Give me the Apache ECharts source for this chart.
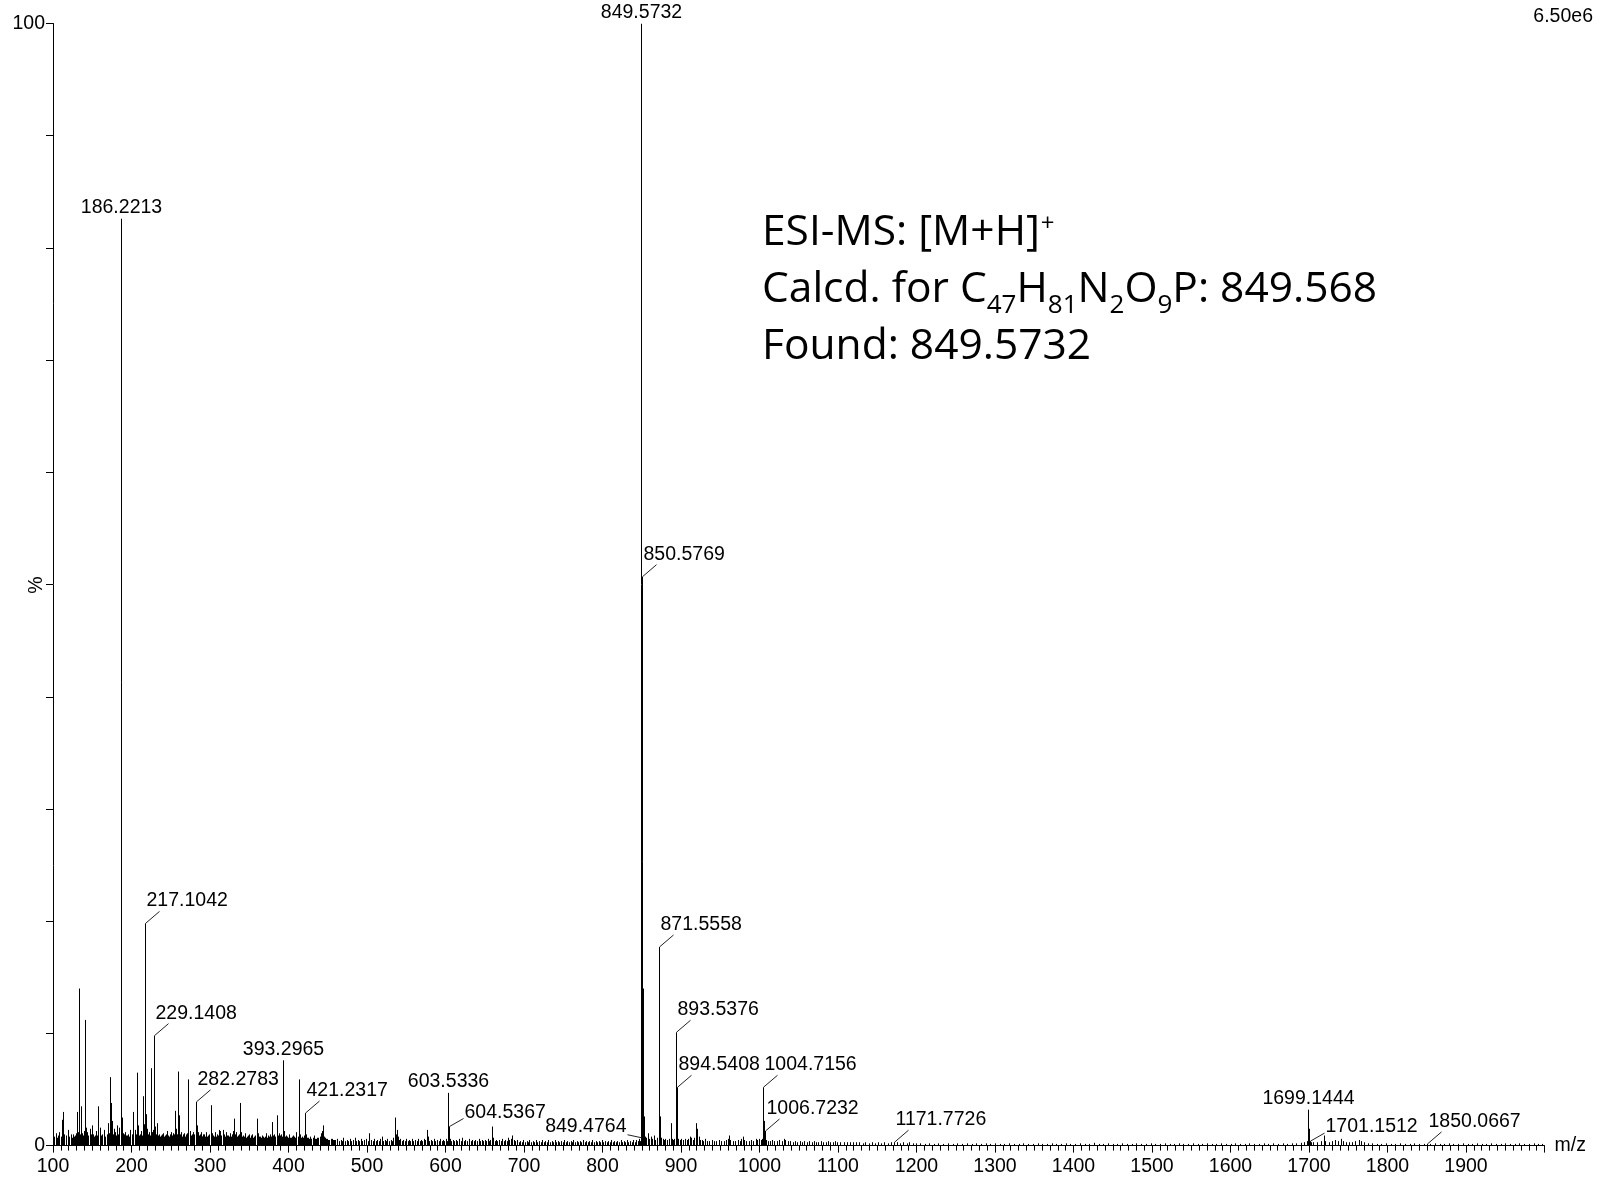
<!DOCTYPE html>
<html><head><meta charset="utf-8">
<script src="https://cdn.jsdelivr.net/npm/echarts@6/dist/echarts.min.js"></script>
<style>html,body{margin:0;padding:0;background:#fff}#c{width:1601px;height:1181px}</style>
</head><body><div id="c"></div>
<script>
// ---------- DATA ----------
const labeledMz  = [186.2213, 217.1042, 229.1408, 282.2783, 393.2965, 421.2317, 603.5336, 604.5367, 849.4764, 849.5732,
                    850.5769, 871.5558, 893.5376, 894.5408, 1004.7156, 1006.7232, 1171.7726, 1699.1444, 1701.1512, 1850.0667];
const labeledInt = [82.6, 19.8, 9.8, 3.9, 7.6, 2.9, 4.7, 1.7, 0.7, 100,
                    50.7, 17.7, 10.1, 5.2, 5.2, 1.3, 0.3, 3.2, 0.4, 0.15];

const minorLow = [[101.5,0.8],[103.2,1.1],[105.0,0.7],[106.4,0.9],[108.1,1.2],[110.3,0.8],[112.0,2.3],[113.2,3.0],[114.6,1.0],[116.5,0.9],[118.7,1.4],[120.0,0.7],[121.0,0.8],[122.8,1.0],[124.0,0.7],[125.3,1.0],[126.6,0.8],[128.0,0.9],[129.2,1.1],[130.2,3.0],[131.3,1.2],[132.5,14.0],
  [133.6,1.5],[134.6,1.0],[135.7,3.5],[137.0,1.1],[138.4,0.9],[139.6,1.3],[141.2,11.2],[142.1,1.6],[143.0,1.2],[144.8,0.9],[146.5,1.5],[147.8,1.0],[149.1,1.8],[151.0,1.0],[152.1,0.8],[153.2,0.9],[155.4,1.3],[156.5,0.9],[157.7,3.5],[159.9,1.6],
  [161.4,0.9],[163.0,1.0],[165.1,1.4],[166.7,0.8],[168.3,1.0],[170.2,2.0],[171.3,1.1],[172.6,6.1],[173.9,3.8],[175.0,2.2],[176.1,1.0],[177.2,1.5],[179.0,1.2],[180.1,0.9],[181.1,1.8],
  [183.0,1.0],[184.5,1.6],[187.2,10.4],[188.2,2.5],[189.1,1.1],[190.0,1.0],[191.2,0.8],[192.1,1.2],[193.3,0.9],[194.3,0.9],[196.0,1.0],[197.2,0.8],[198.3,1.4],[200.0,0.9],[201.1,1.0],
  [202.3,3.0],[204.0,1.4],[205.3,1.0],[206.6,6.5],[208.1,1.8],[209.2,0.9],[210.4,1.0],[212.0,1.3],[213.1,0.9],[214.2,4.4],[215.5,1.9],[218.1,2.8],[219.3,1.5],
  [221.0,1.0],[222.6,1.2],[223.7,0.9],[224.8,6.9],[226.0,1.2],[227.0,1.4],[228.2,1.0],[230.1,1.7],[231.3,1.0],[232.9,2.0],[234.0,0.9],[235.0,1.0],[236.1,0.8],[237.2,0.9],[238.6,1.0],[240.1,1.1],[241.3,0.8],[242.5,0.9],
  [243.7,1.0],[245.0,1.3],[246.2,0.9],[247.3,0.8],[248.8,1.0],[250.2,1.2],[251.1,0.8],[252.0,0.9],[253.2,1.1],[254.3,1.0],[255.4,3.1],[257.2,1.5],[258.4,1.0],[259.7,6.6],[260.8,2.7],[262.0,1.0],[263.0,1.2],
  [264.0,0.8],[265.1,0.9],[266.2,1.0],[267.3,1.1],[268.4,0.8],[269.5,1.0],[270.8,1.1],[272.4,5.9],[274.0,1.3],[275.1,0.9],[276.2,0.9],[277.2,1.0],[278.3,1.2],[279.2,0.8],[280.1,1.0],[283.3,1.8],[284.2,1.2],
  [285.1,0.9],[286.0,0.9],[287.2,1.0],[288.3,1.2],[289.2,0.8],[290.1,0.8],[291.3,1.0],[292.5,1.0],[293.8,0.8],[295.0,1.2],[296.1,0.8],[297.3,0.9],[298.6,1.0],[300.9,3.6],[302.0,1.1],[303.1,0.8],[304.2,0.9],[305.3,0.8],[306.5,1.2],
  [307.7,0.8],[309.0,1.0],[310.3,0.9],[311.5,1.4],[313.2,1.3],[314.5,0.9],[316.0,1.4],[317.2,0.8],[318.3,1.0],[319.4,0.8],[320.5,1.2],[321.7,0.9],[323.0,0.9],[324.0,0.8],[325.1,1.1],[326.2,0.8],[327.4,1.0],[329.0,1.3],
  [331.0,2.4],[332.1,1.0],[333.2,1.2],[334.3,0.8],[335.3,0.9],[336.6,1.0],[338.2,3.8],[339.1,1.0],[340.1,1.2],[341.2,0.8],[342.3,0.9],[343.6,0.8],[345.0,1.1],[346.1,0.7],[347.2,0.8],[348.6,0.9],[350.1,1.0],[351.2,0.7],[352.3,0.9],
  [354.0,1.0],[355.1,0.7],[356.2,0.8],[357.8,0.9],[359.5,2.4],[361.0,1.1],[362.2,0.8],[363.5,0.8],[364.8,0.7],[366.0,0.9],[367.5,0.8],[369.0,0.7],[370.1,0.8],[371.2,1.1],[372.2,0.7],[373.3,0.9],[374.6,0.8],[376.0,1.0],[377.3,0.8],
  [378.6,2.1],[379.8,0.9],[381.0,1.0],[382.1,0.7],[383.2,0.8],[385.0,2.7],[386.2,0.9],[387.3,1.1],[388.2,0.8],[389.2,0.9],[390.1,0.7],[391.0,1.0],[392.2,0.8],[394.3,1.3],[395.2,0.8],[396.2,0.9],[397.3,0.7],[398.5,0.8],[399.7,0.7],
  [401.0,1.0],[402.1,0.7],[403.2,0.7],[404.3,0.8],[405.3,0.9],[406.4,0.7],[407.5,0.8],[408.7,0.7],[410.0,1.2],[411.6,0.8],[413.4,5.9],[415.0,1.0],[416.1,0.7],[417.2,0.8],[418.2,0.7],[419.3,0.9],[420.4,0.7],[422.3,1.0],
  [423.4,0.7],[424.5,0.7],[425.7,0.6],[427.0,0.8],[428.1,0.6],[429.2,0.6],[430.6,0.7],[432.0,0.9],[433.2,0.6],[434.4,0.6],[435.7,0.7],[437.0,0.7],[438.2,0.6],[439.5,0.8],[441.0,1.1],[442.0,0.8],[443.0,1.3],[444.4,1.8],
  [445.3,0.8],[446.3,0.7],[447.6,0.6],[449.0,0.6],[450.5,0.5],[452.0,0.5],[453.6,0.6],[455.2,0.6],[456.6,0.5],[458.0,0.5],[459.4,0.5]];

const minorMid = [[462.0,0.6],[464.2,0.4],[466.3,0.5],[468.1,0.4],[470.0,0.7],[472.1,0.4],[474.2,0.5],[476.3,0.4],[478.5,0.6],[480.2,0.4],[482.0,0.5],[484.7,0.7],[486.5,0.4],[488.3,0.5],[490.1,0.4],[492.0,0.6],[494.2,0.4],[496.4,0.5],
  [499.0,0.6],[500.7,0.4],[502.5,1.1],[505.0,0.5],[507.1,0.4],[509.2,0.6],[511.1,0.4],[513.0,0.5],[514.8,0.4],[516.5,0.6],[519.0,0.8],[520.6,0.4],[522.3,0.5],[524.2,0.4],[526.0,0.6],[528.0,0.4],[530.1,0.5],
  [531.6,0.4],[533.0,0.7],[535.7,2.5],[536.6,1.0],[537.8,1.4],[539.5,0.8],[540.8,0.5],[542.0,0.6],[544.2,0.4],[546.3,0.5],[548.2,0.4],[550.0,0.6],[551.6,0.4],[553.2,0.5],[555.1,0.4],[557.0,0.6],[559.2,0.4],[561.3,0.5],
  [563.2,0.4],[565.0,0.6],[567.0,0.4],[569.0,0.5],[570.7,0.4],[572.4,0.6],[574.2,0.5],[576.0,1.4],[577.0,0.7],[578.0,0.8],[579.6,0.4],[581.2,0.5],[583.1,0.4],[585.0,0.6],[587.2,0.4],[589.3,0.5],[591.1,0.4],[593.0,0.6],[595.0,0.4],[597.1,0.5],
  [598.6,0.4],[600.0,0.6],[601.8,0.4],[605.5,0.6],[607.2,0.4],[609.0,0.5],[611.1,0.4],[613.2,0.5],[615.1,0.4],[617.0,0.6],[619.2,0.4],[621.4,0.7],[623.2,0.4],[625.0,0.5],[627.5,0.4],[630.0,0.6],[632.2,0.4],[634.3,0.5],[636.1,0.4],[638.0,0.5],
  [640.1,0.4],[642.2,0.6],[644.1,0.4],[646.0,0.5],[648.0,0.4],[650.0,0.5],[652.2,0.4],[654.3,0.6],[655.6,0.4],[657.0,0.5],[659.6,1.7],[661.0,0.7],[662.5,0.4],[664.0,0.5],[666.1,0.4],[668.2,0.5],[670.1,0.4],[672.0,0.6],
  [674.2,0.4],[676.3,0.5],[678.1,0.4],[680.0,0.7],[681.5,0.5],[683.0,0.6],[685.0,0.9],[687.2,0.5],[689.1,0.4],[691.0,0.5],[693.2,0.3],[695.3,0.4],[697.1,0.3],[699.0,0.5],[701.1,0.3],[703.2,0.4],[705.1,0.3],[707.0,0.5],
  [709.2,0.3],[711.3,0.4],[713.1,0.3],[715.0,0.5],[717.1,0.3],[719.2,0.4],[721.1,0.3],[723.0,0.5],[725.2,0.3],[727.3,0.4],[729.1,0.3],[731.0,0.5],[733.1,0.3],[735.2,0.4],[737.1,0.3],[739.0,0.5],[741.2,0.3],[743.3,0.4],[745.1,0.3],[747.0,0.4],
  [749.1,0.3],[751.2,0.5],[753.1,0.3],[755.0,0.4],[757.2,0.3],[759.3,0.4],[761.1,0.3],[763.0,0.5],[765.1,0.3],[767.2,0.4],[769.1,0.3],[771.0,0.4],[773.2,0.3],[775.3,0.5],[777.1,0.3],[779.0,0.4],[781.1,0.3],[783.2,0.4],[785.1,0.3],[787.0,0.5],
  [789.2,0.3],[791.3,0.4],[793.1,0.3],[795.0,0.4],[797.1,0.3],[799.2,0.5],[801.1,0.3],[803.0,0.4],[805.2,0.3],[807.3,0.4],[809.1,0.3],[811.0,0.5],[813.1,0.3],[815.2,0.4],[817.1,0.3],[819.0,0.4],[821.2,0.3],[823.3,0.5],[825.1,0.3],[827.0,0.4],
  [829.1,0.3],[831.2,0.5],[833.1,0.3],[835.0,0.4],[837.2,0.3],[839.3,0.5],[841.1,0.3],[843.0,0.5],[844.6,0.4],[846.2,0.6],[847.6,0.4]];

const minorIso = [[851.58,14.0],[852.58,2.6],[853.6,0.8],[855.3,0.7],[857.5,1.1],[859.0,0.6],[861.2,0.8],[863.0,0.6],[865.4,0.9],[867.0,0.5],
  [869.2,0.7],[872.559,9.1],[873.56,2.6],[874.6,0.7],[876.5,0.6],[878.3,0.5],[880.2,0.6],[882.5,0.5],[884.2,0.6],[886.8,2.0],
  [888.2,0.6],[890.0,0.5],[891.6,0.6],[895.54,1.8],[896.6,0.6],[898.3,0.5],[900.5,0.6],[903.0,0.5],[905.2,0.6],[907.5,0.5],
  [909.3,0.6],[911.5,0.8],[913.0,0.7],[915.2,0.5],[917.0,0.7],[918.9,2.0],[920.5,1.5],[922.3,0.8],[924.0,0.5],[926.5,0.5],
  [928.3,0.4],[930.4,0.6],[933.0,0.4],[936.2,0.4],[939.0,0.5],[942.3,0.4],[945.0,0.4],[948.2,0.5],[951.0,0.4],[954.3,0.4],
  [957.0,0.5],[959.3,0.6],[961.5,0.9],[963.0,0.5],[966.2,0.4],[969.0,0.4],[972.3,0.5],[975.0,0.4],[977.0,0.6],[978.6,0.8],
  [980.5,0.5],[983.0,0.4],[986.2,0.4],[989.0,0.5],[992.3,0.4],[995.0,0.6],[997.2,0.5],[999.0,0.6],[1001.3,0.5],[1003.0,0.6],
  [1005.72,2.2],[1008.0,0.5],[1010.3,0.4],[1013.0,0.4],[1016.2,0.5],[1019.0,0.4],[1022.3,0.4],[1025.0,0.5],[1028.2,0.4],[1031.0,0.6],
  [1033.0,0.5],[1036.2,0.4],[1039.0,0.4],[1042.3,0.3],[1045.0,0.4],[1048.2,0.3],[1051.0,0.4],[1054.3,0.3],[1057.0,0.4],[1060.2,0.3],
  [1063.0,0.4],[1066.3,0.3],[1069.0,0.4],[1072.2,0.3],[1075.0,0.3],[1078.3,0.4],[1081.0,0.3],[1084.2,0.3],[1087.0,0.4],[1090.3,0.3],
  [1093.0,0.3],[1096.2,0.4],[1099.0,0.3],[1103.0,0.3],[1107.2,0.3],[1111.0,0.3],[1115.3,0.3],[1119.0,0.3],[1123.2,0.3],[1127.0,0.3],
  [1131.3,0.2],[1135.0,0.3],[1139.2,0.2],[1143.0,0.3],[1147.3,0.2],[1151.0,0.3],[1155.2,0.2],[1159.0,0.3],[1163.3,0.2],[1167.0,0.3],
  [1175.0,0.3],[1179.2,0.2],[1183.0,0.3],[1187.3,0.2],[1191.0,0.3],[1195.2,0.2],[1199.0,0.2]];

const minorHigh = [[1204,0.2],[1210.3,0.15],[1216,0.2],[1222.5,0.15],[1228,0.2],[1234.2,0.15],[1240,0.2],[1246.3,0.15],[1252,0.2],[1258.4,0.15],
  [1264,0.2],[1270.2,0.15],[1276,0.2],[1282.3,0.15],[1288,0.2],[1294.1,0.15],[1300,0.2],[1306.3,0.15],[1312,0.15],[1318.2,0.2],
  [1324,0.15],[1330.3,0.15],[1336,0.2],[1342.2,0.15],[1348,0.15],[1354.3,0.2],[1360,0.15],[1366.1,0.15],[1372,0.2],[1378.3,0.15],
  [1384,0.15],[1390.2,0.2],[1396,0.15],[1402.3,0.15],[1408,0.2],[1414.1,0.15],[1420,0.15],[1426.3,0.25],[1432,0.15],[1438.2,0.15],
  [1444,0.2],[1450.3,0.15],[1456,0.15],[1462.2,0.2],[1468,0.15],[1474.3,0.15],[1480,0.2],[1486.1,0.15],[1492,0.15],[1498.3,0.2],
  [1504,0.15],[1510.2,0.15],[1516,0.2],[1522.3,0.15],[1528,0.15],[1534.1,0.2],[1540,0.15],[1546.3,0.15],[1552,0.2],[1558.2,0.15],
  [1564,0.15],[1570.3,0.2],[1576,0.15],[1582.1,0.15],[1588,0.2],[1594.3,0.15],[1600,0.15],[1606.2,0.2],[1612,0.15],[1618.3,0.15],
  [1624,0.2],[1630.1,0.15],[1636,0.15],[1642.3,0.2],[1648,0.15],[1654.2,0.2],[1660,0.15],[1666.3,0.2],[1672,0.15],[1678.1,0.2],
  [1684,0.2],[1690.3,0.25],[1694,0.3],[1697.1,0.4],[1700.1464,1.5],[1702.2,0.3],[1705,0.3],[1710.2,0.3],[1715,0.4],[1719.5,0.9],
  [1721,0.4],[1725.3,0.3],[1729,0.4],[1733.2,0.5],[1737,0.4],[1740.5,0.6],[1743,0.4],[1747.2,0.3],[1751,0.3],[1755.3,0.3],
  [1759,0.4],[1763.2,0.5],[1766,0.4],[1770.3,0.3],[1775,0.2],[1780.2,0.2],[1786,0.15],[1792.3,0.15],[1798,0.2],[1804.2,0.15],
  [1810,0.15],[1816.3,0.2],[1822,0.15],[1828.1,0.15],[1834,0.2],[1840.3,0.15],[1846,0.15],[1854.2,0.15],[1860,0.2],[1866.3,0.15],
  [1872,0.15],[1878.2,0.2],[1884,0.15],[1890.3,0.15],[1896,0.2],[1902.2,0.15],[1908,0.15],[1914.3,0.2],[1920,0.15],[1926.1,0.15],
  [1932,0.2],[1938.3,0.15],[1944,0.15],[1950.2,0.2],[1956,0.15],[1962.3,0.15],[1968,0.2],[1974.1,0.15],[1980,0.15],[1986.3,0.2],
  [1992,0.15],[1997.2,0.15]];

const xTickLabels = [100,200,300,400,500,600,700,800,900,1000,1100,1200,1300,1400,1500,1600,1700,1800,1900];
const yTickLabels = [0,100];
const yAxisTitle = '%';
const scaleText = '6.50e6';

// ---------- STYLE ----------
// label placement per labeled peak (same order as labeledMz)
const labelKinds = ['top','right','right','right','top','right','top','side','left','top',
                    'right','right','right','right','right','right','right','top','side','right'];
const FONT = "'Liberation Sans', Arial, sans-serif";
const FS = 19.5;

const allPeaks = labeledMz.map((m, i) => [m, labeledInt[i]])
  .concat(minorLow, minorMid, minorIso, minorHigh);
const labelData = labeledMz.map((m, i) => [m, labeledInt[i]]);

function renderPeak(params, api) {
  const p0 = api.coord([api.value(0), 0]);
  const p1 = api.coord([api.value(0), api.value(1)]);
  const x = Math.round(p0[0]) + 0.5;
  return { type: 'line', shape: { x1: x, y1: p0[1], x2: x, y2: p1[1] },
           style: { stroke: '#000', lineWidth: 1 } };
}

function txt(x, y, s, align) {
  return { type: 'text', x: x, y: y,
           style: { text: s, fill: '#000', fontFamily: FONT, fontSize: FS, align: align, verticalAlign: 'middle' } };
}
function lead(x1, y1, x2, y2) {
  return { type: 'line', shape: { x1: x1, y1: y1, x2: x2, y2: y2 },
           style: { stroke: '#222', lineWidth: 1 } };
}

function renderLabel(params, api) {
  const i = params.dataIndex;
  const p = api.coord([api.value(0), api.value(1)]);
  const x = Math.round(p[0]) + 0.5, y = p[1];
  const s = labeledMz[i].toFixed(4);
  const k = labelKinds[i];
  const ch = [];
  if (k === 'top') {
    ch.push(txt(x, y - 11, s, 'center'));
  } else if (k === 'right') {
    ch.push(lead(x, y, x + 14, y - 12));
    ch.push(txt(x + 1, y - 22.5, s, 'left'));
  } else if (k === 'side') {
    ch.push(lead(x, y, x + 14, y - 8));
    ch.push(txt(x + 15, y - 14, s, 'left'));
  } else if (k === 'left') {
    ch.push(lead(x - 14, y - 3, x, y));
    ch.push(txt(x - 15, y - 11, s, 'right'));
  }
  return { type: 'group', children: ch };
}

const chart = echarts.init(document.getElementById('c'), null, { renderer: 'canvas' });
chart.setOption({
  animation: false,
  backgroundColor: '#fff',
  grid: { left: 53, right: 56.5, top: 23.5, bottom: 35.4, containLabel: false, outerBoundsMode: 'none' },
  title: {
    left: 762, top: 204.5, padding: 0,
    text: 'ESI-MS: [M+H]{sup|+}\nCalcd. for C{sub|47}H{sub|81}N{sub|2}O{sub|9}P: 849.568\nFound: 849.5732',
    textStyle: {
      fontFamily: "'Open Sans', sans-serif", fontSize: 42.5, lineHeight: 57, fontWeight: 'normal', color: '#000',
      rich: {
        sub: { fontFamily: "'Open Sans', sans-serif", fontSize: 26, lineHeight: 28, verticalAlign: 'bottom', color: '#000' },
        sup: { fontFamily: "'Open Sans', sans-serif", fontSize: 24, lineHeight: 40, verticalAlign: 'top', padding: [8, 0, 0, 1], color: '#000' }
      }
    }
  },
  graphic: [{
    type: 'text', right: 8, top: 7,
    style: { text: scaleText, fill: '#000', fontFamily: FONT, fontSize: FS }
  }, {
    type: 'text', x: 37, y: 585, rotation: Math.PI / 2,
    style: { text: yAxisTitle, fill: '#000', fontFamily: FONT, fontSize: FS, align: 'center', verticalAlign: 'middle' }
  }],
  xAxis: {
    type: 'value', min: 100, max: 2000, interval: 100,
    name: 'm/z', nameLocation: 'end', nameGap: 10,
    nameTextStyle: { fontFamily: FONT, fontSize: FS, color: '#000' },
    axisLine: { show: true, onZero: false, lineStyle: { color: '#000', width: 1 } },
    axisTick: { show: true, length: 7, lineStyle: { color: '#000' } },
    minorTick: { show: true, splitNumber: 10, length: 5, lineStyle: { color: '#000' } },
    splitLine: { show: false },
    axisLabel: {
      margin: 11, fontFamily: FONT, fontSize: FS, color: '#000',
      formatter: v => xTickLabels.indexOf(v) >= 0 ? String(v) : ''
    }
  },
  yAxis: {
    type: 'value', min: 0, max: 100, interval: 10,
    axisLine: { show: true, lineStyle: { color: '#000', width: 1 } },
    axisTick: { show: true, length: 7, lineStyle: { color: '#000' } },
    splitLine: { show: false },
    axisLabel: {
      margin: 8, fontFamily: FONT, fontSize: FS, color: '#000',
      formatter: v => yTickLabels.indexOf(v) >= 0 ? String(v) : ''
    }
  },
  series: [
    { type: 'custom', name: 'peaks', data: allPeaks, encode: { x: 0, y: 1 },
      renderItem: renderPeak, clip: true, silent: true },
    { type: 'custom', name: 'labels', data: labelData, encode: { x: 0, y: 1 },
      renderItem: renderLabel, clip: false, silent: true, z: 5 }
  ]
});
</script>
</body></html>
